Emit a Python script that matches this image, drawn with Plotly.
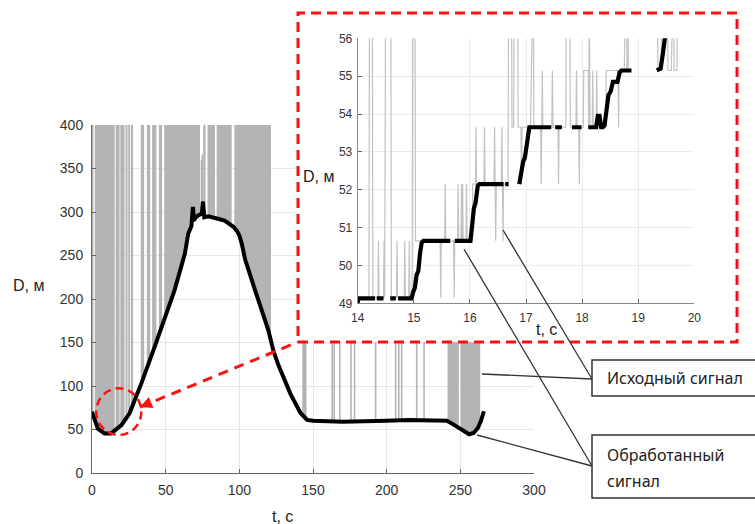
import numpy as np
import plotly.graph_objects as go

W, H = 755, 524

# ---------------- main chart data ----------------
# processed signal (black)
proc_t = [0, 4, 8.5, 13, 20, 25.5, 29, 33.5, 42.5, 49.5, 56, 63, 65.3, 67.5, 68.5, 69.2, 70, 72,
          74.5, 75.3, 76.2, 79, 82, 86, 90, 93, 96, 98.5, 100, 101.6, 104, 110.7, 119.7, 123.2, 126.5,
          134.7, 141.5, 146, 150, 170, 185, 200, 215, 230, 241, 246, 251, 256, 259, 262, 264, 266]
proc_D = [70.5, 51, 45.5, 45.5, 55, 68.5, 84, 103, 145, 180, 210, 252, 275, 284, 306, 290, 293, 296,
          298, 312, 294, 295, 294, 292, 290, 287, 283, 278, 273, 264, 245, 210, 164, 140, 124,
          91, 69, 61, 60, 59, 59, 60, 61, 60, 60, 55, 50, 44.5, 46, 52, 60, 71]

# raw signal (grey): intervals where spikes fill densely up to the top, white gaps, single spikes
raw_top = 400
raw_dense_start = [0.0, 142.7, 241.3]
raw_dense_end = [121.5, 145.6, 263.5]
raw_gap_start = [1.0, 15.4, 18.7, 22.1, 24.1, 25.9, 27.9, 35.4, 39.5, 43.7, 47.6, 73.3, 77.1, 83.5, 94.8, 249.0]
raw_gap_end = [1.9, 16.1, 19.2, 22.8, 24.6, 26.5, 33.1, 37.2, 40.8, 45.4, 49.0, 75.5, 78.4, 84.6, 96.6, 250.2]
raw_spike_t = [163.0, 164.4, 168.2, 175.8, 178.2, 192.5, 206.1, 208.2, 210.2, 220.4, 225.4]
peak_spike_t = [74.3, 74.9]
peak_spike_top = [360, 366]

main_xticks = [0, 50, 100, 150, 200, 250, 300]
main_yticks = [0, 50, 100, 150, 200, 250, 300, 350, 400]

# ---------------- inset data (t 14..20 s) ----------------
inset_proc_t = [14.00, 14.005, 14.31, None, 14.34, 14.46, None, 14.58, 14.68, None, 14.72, 14.96, 14.99,
                15.02, 15.05, 15.08, 15.11, 15.14, 15.17, 15.65, None, 15.73, 16.01, 16.04, 16.07, 16.10,
                16.14, 16.17, 16.60, None, 16.63, 16.69, None, 16.88, 16.92, 16.95, 16.98, 17.02, 17.06,
                17.45, None, 17.52, 17.64, None, 17.82, 17.99, None, 18.11, 18.25, 18.28, 18.31, 18.34,
                18.37, 18.40, 18.43, 18.47, 18.51, 18.55, 18.63, 18.67, 18.70, 18.88, None, 19.33, 19.40,
                19.44, 19.48, 19.52]
inset_proc_D = [49.0, 49.13, 49.13, None, 49.13, 49.13, None, 49.13, 49.13, None, 49.13, 49.13, 49.3,
                49.42, 49.75, 49.85, 50.3, 50.6, 50.65, 50.65, None, 50.65, 50.65, 51.05, 51.5, 51.65,
                52.1, 52.15, 52.15, None, 52.15, 52.15, None, 52.15, 52.6, 52.75, 52.85, 53.3, 53.65,
                53.65, None, 53.65, 53.65, None, 53.65, 53.65, None, 53.65, 53.65, 53.95, 53.95, 53.65,
                53.65, 53.7, 54.1, 54.5, 54.6, 54.85, 54.85, 55.1, 55.15, 55.15, None, 55.15, 55.2,
                55.6, 56.0, 56.5]

inset_raw_t = [14.00, 14.20, 14.21, 14.26, 14.27, 14.36, 14.37, 14.38, 14.46, 14.47, 14.48, 14.50, 14.59,
               14.60, 14.69, 14.70, 14.71, 14.83, 14.84, 14.85, 14.91, 14.92, 14.93, 14.97, 14.98, 15.02,
               15.03, 15.47, 15.48, 15.49, 15.55, 15.56, 15.57, 15.71, 15.72, 15.73, 15.78, 15.79, 15.80,
               15.84, 15.85, 15.86, 15.87, 15.88, 15.93, 15.94, 15.95, 16.04, 16.05, 16.10, 16.11, 16.12,
               16.25, 16.26, 16.27, 16.43, 16.44, 16.45, 16.46, 16.47, 16.56, 16.57, 16.58, 16.59, 16.60,
               16.68, 16.69, 16.74, 16.75, 16.78, 16.79, 16.85, 16.86, 16.91, 16.92, 16.93, 17.08, 17.09,
               17.13, 17.14, 17.26, 17.27, 17.28, 17.29, 17.30, 17.46, 17.47, 17.48, 17.57, 17.58, 17.59,
               17.71, 17.72, 17.78, 17.79, 17.89, 17.90, 17.91, 17.94, 17.95, 17.96, 18.02, 18.03, 18.11,
               18.12, 18.13, 18.14, 18.18, 18.19, 18.20, 18.25, 18.26, 18.27, 18.42, 18.43, 18.64, 18.65,
               18.66, 18.75, 18.76, 18.79, 18.80, 18.82, 18.83, 18.86, None, 19.34, 19.35, 19.41, 19.42,
               19.52, 19.53, 19.59, 19.60, 19.63, 19.64, 19.69, 19.70]
inset_raw_D = [49.15, 49.15, 58, 58, 49.15, 49.15, 50.65, 49.15, 49.15, 50.65, 49.15, 58, 58,
               49.15, 49.15, 50.65, 49.15, 49.15, 50.65, 49.15, 49.15, 50.65, 49.15, 49.15, 58, 58,
               50.65, 50.65, 49.15, 50.65, 50.65, 52.15, 50.65, 50.65, 49.15, 50.65, 50.65, 52.15, 50.65,
               50.65, 52.15, 50.65, 52.15, 50.65, 50.65, 52.15, 50.65, 50.65, 52.15, 52.15, 53.65, 52.15,
               52.15, 53.65, 52.15, 52.15, 53.65, 52.15, 50.65, 52.15, 52.15, 53.65, 52.15, 50.65, 52.15,
               52.15, 58, 58, 53.65, 53.65, 58, 58, 53.65, 53.65, 52.15, 53.65, 53.65, 58,
               58, 53.65, 53.65, 52.15, 53.65, 55.15, 53.65, 53.65, 55.15, 53.65, 53.65, 52.15, 53.65,
               53.65, 58, 58, 53.65, 53.65, 55.15, 53.65, 53.65, 52.15, 53.65, 53.65, 55.15, 55.15,
               53.65, 58, 53.65, 53.65, 55.15, 53.65, 53.65, 55.15, 53.65, 53.65, 55.15, 55.15, 53.65,
               55.15, 55.15, 58, 58, 55.15, 55.15, 58, 58, None, 58, 55.15, 55.15, 58,
               58, 55.15, 55.15, 58, 58, 55.15, 55.15, 58]

inset_xticks = [14, 15, 16, 17, 18, 19, 20]
inset_yticks = [49, 50, 51, 52, 53, 54, 55, 56]

GREY = "#b4b4b4"
RED = "#ff1010"


def px(x):
    return x / W


def py(y):
    return 1 - y / H


def curve(t):
    return float(np.interp(t, proc_t, proc_D))


# grey dense raw areas: polygons between processed curve and top, minus white gaps
segs = []
gaps = sorted(zip(raw_gap_start, raw_gap_end))
for a, b in zip(raw_dense_start, raw_dense_end):
    cur = a
    for gs, ge in gaps:
        if ge <= a or gs >= b:
            continue
        if gs > cur:
            segs.append((cur, gs))
        cur = max(cur, ge)
    if cur < b:
        segs.append((cur, b))

poly_x, poly_y = [], []
for a, b in segs:
    inner = [(t, d) for t, d in zip(proc_t, proc_D) if a < t < b]
    xs = [a, b, b] + [t for t, _ in reversed(inner)] + [a, a]
    ys = [raw_top, raw_top, curve(b)] + [d for _, d in reversed(inner)] + [curve(a), raw_top]
    poly_x += xs + [None]
    poly_y += ys + [None]

spk_x, spk_y = [], []
for t in raw_spike_t:
    spk_x += [t, t, None]
    spk_y += [curve(t), raw_top, None]
for t, top in zip(peak_spike_t, peak_spike_top):
    spk_x += [t, t, None]
    spk_y += [curve(t), top, None]

fig = go.Figure()
fig.add_trace(go.Scatter(x=poly_x, y=poly_y, mode="lines", fill="toself", fillcolor=GREY,
                         line=dict(width=0, color=GREY), hoverinfo="skip", xaxis="x", yaxis="y"))
fig.add_trace(go.Scatter(x=spk_x, y=spk_y, mode="lines", line=dict(width=1.6, color=GREY),
                         hoverinfo="skip", xaxis="x", yaxis="y"))
fig.add_trace(go.Scatter(x=proc_t, y=proc_D, mode="lines", line=dict(width=4, color="black"),
                         xaxis="x", yaxis="y"))
# cover subplot (white box under the inset)
fig.add_trace(go.Scatter(x=[0.5], y=[0.5], mode="markers", marker=dict(opacity=0),
                         hoverinfo="skip", xaxis="x2", yaxis="y2"))
# inset
fig.add_trace(go.Scatter(x=inset_raw_t, y=inset_raw_D, mode="lines", line=dict(width=1.2, color="#c2c2c2"),
                         hoverinfo="skip", xaxis="x3", yaxis="y3"))
fig.add_trace(go.Scatter(x=inset_proc_t, y=inset_proc_D, mode="lines", line=dict(width=4.2, color="black"),
                         xaxis="x3", yaxis="y3"))

tickfont = dict(family="Liberation Sans, Arial", size=14, color="#333")
ax_common = dict(showline=True, linecolor="#666", linewidth=1, ticks="inside", ticklen=4,
                 tickcolor="#666", zeroline=False, showgrid=True, gridcolor="#e6e6e6", gridwidth=1,
                 automargin=False)
inset_ax = {**ax_common, "linecolor": "#888", "gridcolor": "#ebebeb"}
small_font = dict(family="Liberation Sans, Arial", size=12, color="#333")

fig.update_layout(
    width=W, height=H, margin=dict(l=0, r=0, t=0, b=0, autoexpand=False),
    paper_bgcolor="white", plot_bgcolor="white", showlegend=False,
    xaxis=dict(domain=[px(92), px(534)], range=[0, 300], tickvals=main_xticks, tickfont=tickfont,
               anchor="y", ticklabelstandoff=4, **ax_common),
    yaxis=dict(domain=[py(473), py(125)], range=[0, 400], tickvals=main_yticks, tickfont=tickfont,
               anchor="x", ticklabelstandoff=5, **ax_common),
    xaxis2=dict(domain=[px(298), px(737)], range=[0, 1], visible=False, anchor="y2", automargin=False),
    yaxis2=dict(domain=[py(342), py(13)], range=[0, 1], visible=False, anchor="x2", automargin=False),
    xaxis3=dict(domain=[px(357.7), px(694.3)], range=[14, 20], tickvals=inset_xticks, tickfont=small_font,
                anchor="y3", ticklabelstandoff=3, **inset_ax),
    yaxis3=dict(domain=[py(303.3), py(38.3)], range=[49, 56], tickvals=inset_yticks, tickfont=small_font,
                anchor="x3", ticklabelstandoff=2, **inset_ax),
)

lblfont = dict(family="Liberation Sans, Arial", size=16, color="#222")
ann = [
    dict(text="D, м", x=px(28), y=py(285)),
    dict(text="t, с", x=px(282), y=py(516)),
    dict(text="D, м", x=px(318), y=py(176)),
    dict(text="t, с", x=px(546), y=py(329)),
]
for a in ann:
    fig.add_annotation(xref="paper", yref="paper", showarrow=False, font=lblfont,
                       xanchor="center", yanchor="middle", **a)

boxfont = dict(family="Noto Sans, Open Sans", size=16, color="#222")
for text, yc in [("Исходный сигнал", 378), ("Обработанный", 455), ("сигнал", 481)]:
    fig.add_annotation(xref="paper", yref="paper", x=px(605), y=py(yc), text=text, showarrow=False,
                       xanchor="left", yanchor="middle", font=boxfont)

shapes = []
# inset red dashed frame
shapes.append(dict(type="rect", xref="paper", yref="paper", x0=px(298), x1=px(737), y0=py(342), y1=py(13),
                   line=dict(color=RED, width=3, dash="10px,6px"), layer="above"))
# dashed circle around zoomed region (main data coordinates)
shapes.append(dict(type="circle", xref="x", yref="y", x0=2.9, x1=33.5, y0=43.7, y1=97.3,
                   line=dict(color=RED, width=2.5, dash="8px,5px"), layer="above"))
# dashed connector
shapes.append(dict(type="line", xref="paper", yref="paper", x0=px(140), y0=py(407), x1=px(298), y1=py(342),
                   line=dict(color=RED, width=3, dash="10px,7px"), layer="above"))
# text boxes
shapes.append(dict(type="rect", xref="paper", yref="paper", x0=px(592), x1=1.02, y0=py(396), y1=py(360),
                   line=dict(color="#333", width=1.5), fillcolor="white", layer="above"))
shapes.append(dict(type="rect", xref="paper", yref="paper", x0=px(592), x1=1.02, y0=py(498), y1=py(435),
                   line=dict(color="#333", width=1.5), fillcolor="white", layer="above"))
# callout lines
for (x0, y0, x1, y1) in [(503, 230, 592, 379), (482, 374, 592, 379), (464, 249, 592, 466), (477, 435, 592, 466)]:
    shapes.append(dict(type="line", xref="paper", yref="paper", x0=px(x0), y0=py(y0), x1=px(x1), y1=py(y1),
                       line=dict(color="#333", width=1.3), layer="above"))
fig.update_layout(shapes=shapes)

# small red arrow head at the circle end of the connector
fig.add_annotation(xref="paper", yref="paper", x=px(140), y=py(407), ax=9, ay=-3.7, axref="pixel", ayref="pixel",
                   text="", showarrow=True, arrowhead=2, arrowsize=1.2, arrowwidth=2, arrowcolor=RED)

fig.write_html("out.html", config={"displayModeBar": False},
               post_script="document.body.style.margin='0';document.body.style.overflow='hidden';")
